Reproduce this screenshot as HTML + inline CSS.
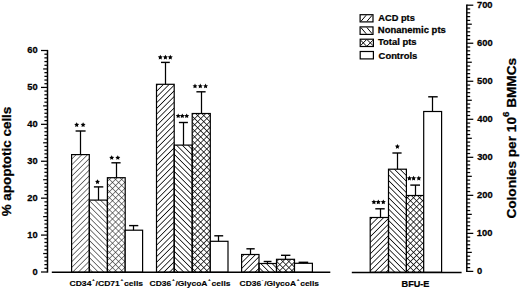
<!DOCTYPE html>
<html><head><meta charset="utf-8"><style>
html,body{margin:0;padding:0;background:#fff;width:520px;height:289px;overflow:hidden}
svg{display:block}
text{font-family:"Liberation Sans",sans-serif;font-weight:bold;fill:#000;stroke:#000;stroke-width:0.25px}
.xl{font-size:7.9px;stroke-width:0.12px}
.ti{font-size:12.3px}
.ti2{font-size:12.7px}
</style></head><body>
<svg width="520" height="289" viewBox="0 0 520 289">
<defs>
<pattern id="h1" patternUnits="userSpaceOnUse" width="4.03" height="4.03" patternTransform="rotate(-45)">
<line x1="0" y1="2.015" x2="4.03" y2="2.015" stroke="#000" stroke-width="0.75"/></pattern>
<pattern id="h2" patternUnits="userSpaceOnUse" width="4.03" height="4.03" patternTransform="rotate(45)">
<line x1="0" y1="2.015" x2="4.03" y2="2.015" stroke="#000" stroke-width="0.75"/></pattern>
<pattern id="h3" patternUnits="userSpaceOnUse" width="4.3" height="4.3" patternTransform="rotate(45)">
<line x1="0" y1="2.15" x2="4.3" y2="2.15" stroke="#000" stroke-width="0.72"/>
<line x1="2.15" y1="0" x2="2.15" y2="4.3" stroke="#000" stroke-width="0.72"/></pattern>
<pattern id="h1a" patternUnits="userSpaceOnUse" width="4.03" height="4.03" patternTransform="rotate(-45)">
<line x1="0" y1="2.015" x2="4.03" y2="2.015" stroke="#222" stroke-width="0.6"/></pattern>
<pattern id="h2a" patternUnits="userSpaceOnUse" width="4.03" height="4.03" patternTransform="rotate(45)">
<line x1="0" y1="2.015" x2="4.03" y2="2.015" stroke="#222" stroke-width="0.6"/></pattern>
<pattern id="h3a" patternUnits="userSpaceOnUse" width="4.3" height="4.3" patternTransform="rotate(45)">
<line x1="0" y1="2.15" x2="4.3" y2="2.15" stroke="#222" stroke-width="0.55"/>
<line x1="2.15" y1="0" x2="2.15" y2="4.3" stroke="#222" stroke-width="0.55"/></pattern>
</defs>
<rect width="520" height="289" fill="#fff"/>
<rect x="71.60" y="154.60" width="17.70" height="117.70" fill="url(#h1a)" stroke="#000" stroke-width="1.2"/><line x1="80.50" y1="154.60" x2="80.50" y2="131.00" stroke="#000" stroke-width="1.25"/><line x1="75.60" y1="131.00" x2="85.60" y2="131.00" stroke="#000" stroke-width="1.4"/><polygon points="76.70,122.30 77.46,123.85 79.17,124.10 77.94,125.30 78.23,127.00 76.70,126.20 75.17,127.00 75.46,125.30 74.23,124.10 75.94,123.85" fill="#000"/><polygon points="83.10,122.30 83.86,123.85 85.57,124.10 84.34,125.30 84.63,127.00 83.10,126.20 81.57,127.00 81.86,125.30 80.63,124.10 82.34,123.85" fill="#000"/><rect x="89.30" y="200.10" width="18.10" height="72.20" fill="url(#h2a)" stroke="#000" stroke-width="1.2"/><line x1="98.50" y1="200.10" x2="98.50" y2="186.90" stroke="#000" stroke-width="1.25"/><line x1="93.90" y1="186.90" x2="103.30" y2="186.90" stroke="#000" stroke-width="1.4"/><polygon points="97.50,179.30 98.26,180.85 99.97,181.10 98.74,182.30 99.03,184.00 97.50,183.20 95.97,184.00 96.26,182.30 95.03,181.10 96.74,180.85" fill="#000"/><rect x="107.40" y="177.70" width="17.80" height="94.60" fill="url(#h3a)" stroke="#000" stroke-width="1.2"/><line x1="116.50" y1="177.70" x2="116.50" y2="162.80" stroke="#000" stroke-width="1.25"/><line x1="111.40" y1="162.80" x2="120.60" y2="162.80" stroke="#000" stroke-width="1.4"/><polygon points="111.70,155.15 112.46,156.70 114.17,156.95 112.94,158.15 113.23,159.85 111.70,159.05 110.17,159.85 110.46,158.15 109.23,156.95 110.94,156.70" fill="#000"/><polygon points="117.80,155.15 118.56,156.70 120.27,156.95 119.04,158.15 119.33,159.85 117.80,159.05 116.27,159.85 116.56,158.15 115.33,156.95 117.04,156.70" fill="#000"/><rect x="125.20" y="230.20" width="17.40" height="42.10" fill="#fff" stroke="#000" stroke-width="1.2"/><line x1="133.50" y1="230.20" x2="133.50" y2="225.60" stroke="#000" stroke-width="1.25"/><line x1="129.10" y1="225.60" x2="138.30" y2="225.60" stroke="#000" stroke-width="1.4"/><rect x="156.50" y="84.30" width="17.70" height="188.00" fill="url(#h1)" stroke="#000" stroke-width="1.2"/><line x1="165.50" y1="84.30" x2="165.50" y2="62.40" stroke="#000" stroke-width="1.25"/><line x1="161.00" y1="62.40" x2="169.80" y2="62.40" stroke="#000" stroke-width="1.4"/><polygon points="160.30,54.80 161.06,56.35 162.77,56.60 161.54,57.80 161.83,59.50 160.30,58.70 158.77,59.50 159.06,57.80 157.83,56.60 159.54,56.35" fill="#000"/><polygon points="165.40,54.80 166.16,56.35 167.87,56.60 166.64,57.80 166.93,59.50 165.40,58.70 163.87,59.50 164.16,57.80 162.93,56.60 164.64,56.35" fill="#000"/><polygon points="170.30,54.80 171.06,56.35 172.77,56.60 171.54,57.80 171.83,59.50 170.30,58.70 168.77,59.50 169.06,57.80 167.83,56.60 169.54,56.35" fill="#000"/><rect x="174.20" y="145.10" width="18.00" height="127.20" fill="url(#h2)" stroke="#000" stroke-width="1.2"/><line x1="183.50" y1="145.10" x2="183.50" y2="122.50" stroke="#000" stroke-width="1.25"/><line x1="178.90" y1="122.50" x2="187.90" y2="122.50" stroke="#000" stroke-width="1.4"/><polygon points="178.20,113.40 178.96,114.95 180.67,115.20 179.44,116.40 179.73,118.10 178.20,117.30 176.67,118.10 176.96,116.40 175.73,115.20 177.44,114.95" fill="#000"/><polygon points="182.30,113.40 183.06,114.95 184.77,115.20 183.54,116.40 183.83,118.10 182.30,117.30 180.77,118.10 181.06,116.40 179.83,115.20 181.54,114.95" fill="#000"/><polygon points="186.70,113.40 187.46,114.95 189.17,115.20 187.94,116.40 188.23,118.10 186.70,117.30 185.17,118.10 185.46,116.40 184.23,115.20 185.94,114.95" fill="#000"/><rect x="192.20" y="113.50" width="18.10" height="158.80" fill="url(#h3)" stroke="#000" stroke-width="1.2"/><line x1="201.50" y1="113.50" x2="201.50" y2="91.80" stroke="#000" stroke-width="1.25"/><line x1="196.40" y1="91.80" x2="205.60" y2="91.80" stroke="#000" stroke-width="1.4"/><polygon points="195.00,83.60 195.76,85.15 197.47,85.40 196.24,86.60 196.53,88.30 195.00,87.50 193.47,88.30 193.76,86.60 192.53,85.40 194.24,85.15" fill="#000"/><polygon points="200.30,83.60 201.06,85.15 202.77,85.40 201.54,86.60 201.83,88.30 200.30,87.50 198.77,88.30 199.06,86.60 197.83,85.40 199.54,85.15" fill="#000"/><polygon points="205.60,83.60 206.36,85.15 208.07,85.40 206.84,86.60 207.13,88.30 205.60,87.50 204.07,88.30 204.36,86.60 203.13,85.40 204.84,85.15" fill="#000"/><rect x="210.30" y="241.30" width="17.70" height="31.00" fill="#fff" stroke="#000" stroke-width="1.2"/><line x1="218.50" y1="241.30" x2="218.50" y2="235.80" stroke="#000" stroke-width="1.25"/><line x1="214.30" y1="235.80" x2="223.20" y2="235.80" stroke="#000" stroke-width="1.4"/><rect x="241.60" y="254.50" width="17.40" height="17.80" fill="url(#h1)" stroke="#000" stroke-width="1.2"/><line x1="250.50" y1="254.50" x2="250.50" y2="248.80" stroke="#000" stroke-width="1.25"/><line x1="246.40" y1="248.80" x2="254.70" y2="248.80" stroke="#000" stroke-width="1.4"/><rect x="259.00" y="263.50" width="17.50" height="8.80" fill="url(#h2)" stroke="#000" stroke-width="1.2"/><line x1="267.50" y1="263.50" x2="267.50" y2="261.50" stroke="#000" stroke-width="1.25"/><line x1="263.70" y1="261.50" x2="271.50" y2="261.50" stroke="#000" stroke-width="1.4"/><rect x="276.50" y="259.30" width="18.00" height="13.00" fill="url(#h3)" stroke="#000" stroke-width="1.2"/><line x1="285.50" y1="259.30" x2="285.50" y2="255.30" stroke="#000" stroke-width="1.25"/><line x1="281.00" y1="255.30" x2="290.40" y2="255.30" stroke="#000" stroke-width="1.4"/><rect x="294.50" y="263.30" width="17.90" height="9.00" fill="#fff" stroke="#000" stroke-width="1.2"/><line x1="303.50" y1="263.30" x2="303.50" y2="262.30" stroke="#000" stroke-width="1.25"/><line x1="298.60" y1="262.30" x2="308.20" y2="262.30" stroke="#000" stroke-width="1.4"/><rect x="370.20" y="217.50" width="18.30" height="54.80" fill="url(#h1)" stroke="#000" stroke-width="1.2"/><line x1="380.50" y1="217.50" x2="380.50" y2="208.80" stroke="#000" stroke-width="1.25"/><line x1="375.30" y1="208.80" x2="384.70" y2="208.80" stroke="#000" stroke-width="1.4"/><polygon points="373.90,199.50 374.66,201.05 376.37,201.30 375.14,202.50 375.43,204.20 373.90,203.40 372.37,204.20 372.66,202.50 371.43,201.30 373.14,201.05" fill="#000"/><polygon points="378.30,199.50 379.06,201.05 380.77,201.30 379.54,202.50 379.83,204.20 378.30,203.40 376.77,204.20 377.06,202.50 375.83,201.30 377.54,201.05" fill="#000"/><polygon points="383.30,199.50 384.06,201.05 385.77,201.30 384.54,202.50 384.83,204.20 383.30,203.40 381.77,204.20 382.06,202.50 380.83,201.30 382.54,201.05" fill="#000"/><rect x="388.50" y="169.20" width="17.90" height="103.10" fill="url(#h2)" stroke="#000" stroke-width="1.2"/><line x1="397.50" y1="169.20" x2="397.50" y2="153.00" stroke="#000" stroke-width="1.25"/><line x1="392.40" y1="153.00" x2="401.60" y2="153.00" stroke="#000" stroke-width="1.4"/><polygon points="397.40,144.00 398.16,145.55 399.87,145.80 398.64,147.00 398.93,148.70 397.40,147.90 395.87,148.70 396.16,147.00 394.93,145.80 396.64,145.55" fill="#000"/><rect x="406.40" y="195.50" width="17.30" height="76.80" fill="url(#h3)" stroke="#000" stroke-width="1.2"/><line x1="415.50" y1="195.50" x2="415.50" y2="185.10" stroke="#000" stroke-width="1.25"/><line x1="410.30" y1="185.10" x2="420.00" y2="185.10" stroke="#000" stroke-width="1.4"/><polygon points="409.40,175.80 410.16,177.35 411.87,177.60 410.64,178.80 410.93,180.50 409.40,179.70 407.87,180.50 408.16,178.80 406.93,177.60 408.64,177.35" fill="#000"/><polygon points="413.60,175.80 414.36,177.35 416.07,177.60 414.84,178.80 415.13,180.50 413.60,179.70 412.07,180.50 412.36,178.80 411.13,177.60 412.84,177.35" fill="#000"/><polygon points="418.80,175.80 419.56,177.35 421.27,177.60 420.04,178.80 420.33,180.50 418.80,179.70 417.27,180.50 417.56,178.80 416.33,177.60 418.04,177.35" fill="#000"/><rect x="423.70" y="111.50" width="17.90" height="160.80" fill="#fff" stroke="#000" stroke-width="1.2"/><line x1="432.50" y1="111.50" x2="432.50" y2="96.80" stroke="#000" stroke-width="1.25"/><line x1="428.20" y1="96.80" x2="437.70" y2="96.80" stroke="#000" stroke-width="1.4"/>
<line x1="47.5" y1="49.90" x2="47.5" y2="272.60" stroke="#000" stroke-width="1.5"/><line x1="41.00" y1="272.00" x2="47.5" y2="272.00" stroke="#000" stroke-width="1.25"/><text transform="translate(32.50,274.60) scale(1.0600,1)" style="font-size:8.8px" >0</text><line x1="44.40" y1="268.31" x2="47.5" y2="268.31" stroke="#000" stroke-width="1.25"/><line x1="44.40" y1="264.62" x2="47.5" y2="264.62" stroke="#000" stroke-width="1.25"/><line x1="44.40" y1="260.93" x2="47.5" y2="260.93" stroke="#000" stroke-width="1.25"/><line x1="44.40" y1="257.23" x2="47.5" y2="257.23" stroke="#000" stroke-width="1.25"/><line x1="43.20" y1="253.54" x2="47.5" y2="253.54" stroke="#000" stroke-width="1.25"/><line x1="44.40" y1="249.85" x2="47.5" y2="249.85" stroke="#000" stroke-width="1.25"/><line x1="44.40" y1="246.16" x2="47.5" y2="246.16" stroke="#000" stroke-width="1.25"/><line x1="44.40" y1="242.47" x2="47.5" y2="242.47" stroke="#000" stroke-width="1.25"/><line x1="44.40" y1="238.78" x2="47.5" y2="238.78" stroke="#000" stroke-width="1.25"/><line x1="41.00" y1="235.08" x2="47.5" y2="235.08" stroke="#000" stroke-width="1.25"/><text transform="translate(27.32,237.68) scale(1.0600,1)" style="font-size:8.8px" >10</text><line x1="44.40" y1="231.39" x2="47.5" y2="231.39" stroke="#000" stroke-width="1.25"/><line x1="44.40" y1="227.70" x2="47.5" y2="227.70" stroke="#000" stroke-width="1.25"/><line x1="44.40" y1="224.01" x2="47.5" y2="224.01" stroke="#000" stroke-width="1.25"/><line x1="44.40" y1="220.32" x2="47.5" y2="220.32" stroke="#000" stroke-width="1.25"/><line x1="43.20" y1="216.62" x2="47.5" y2="216.62" stroke="#000" stroke-width="1.25"/><line x1="44.40" y1="212.93" x2="47.5" y2="212.93" stroke="#000" stroke-width="1.25"/><line x1="44.40" y1="209.24" x2="47.5" y2="209.24" stroke="#000" stroke-width="1.25"/><line x1="44.40" y1="205.55" x2="47.5" y2="205.55" stroke="#000" stroke-width="1.25"/><line x1="44.40" y1="201.86" x2="47.5" y2="201.86" stroke="#000" stroke-width="1.25"/><line x1="41.00" y1="198.17" x2="47.5" y2="198.17" stroke="#000" stroke-width="1.25"/><text transform="translate(27.32,200.77) scale(1.0600,1)" style="font-size:8.8px" >20</text><line x1="44.40" y1="194.47" x2="47.5" y2="194.47" stroke="#000" stroke-width="1.25"/><line x1="44.40" y1="190.78" x2="47.5" y2="190.78" stroke="#000" stroke-width="1.25"/><line x1="44.40" y1="187.09" x2="47.5" y2="187.09" stroke="#000" stroke-width="1.25"/><line x1="44.40" y1="183.40" x2="47.5" y2="183.40" stroke="#000" stroke-width="1.25"/><line x1="43.20" y1="179.71" x2="47.5" y2="179.71" stroke="#000" stroke-width="1.25"/><line x1="44.40" y1="176.02" x2="47.5" y2="176.02" stroke="#000" stroke-width="1.25"/><line x1="44.40" y1="172.32" x2="47.5" y2="172.32" stroke="#000" stroke-width="1.25"/><line x1="44.40" y1="168.63" x2="47.5" y2="168.63" stroke="#000" stroke-width="1.25"/><line x1="44.40" y1="164.94" x2="47.5" y2="164.94" stroke="#000" stroke-width="1.25"/><line x1="41.00" y1="161.25" x2="47.5" y2="161.25" stroke="#000" stroke-width="1.25"/><text transform="translate(27.32,163.85) scale(1.0600,1)" style="font-size:8.8px" >30</text><line x1="44.40" y1="157.56" x2="47.5" y2="157.56" stroke="#000" stroke-width="1.25"/><line x1="44.40" y1="153.87" x2="47.5" y2="153.87" stroke="#000" stroke-width="1.25"/><line x1="44.40" y1="150.18" x2="47.5" y2="150.18" stroke="#000" stroke-width="1.25"/><line x1="44.40" y1="146.48" x2="47.5" y2="146.48" stroke="#000" stroke-width="1.25"/><line x1="43.20" y1="142.79" x2="47.5" y2="142.79" stroke="#000" stroke-width="1.25"/><line x1="44.40" y1="139.10" x2="47.5" y2="139.10" stroke="#000" stroke-width="1.25"/><line x1="44.40" y1="135.41" x2="47.5" y2="135.41" stroke="#000" stroke-width="1.25"/><line x1="44.40" y1="131.72" x2="47.5" y2="131.72" stroke="#000" stroke-width="1.25"/><line x1="44.40" y1="128.03" x2="47.5" y2="128.03" stroke="#000" stroke-width="1.25"/><line x1="41.00" y1="124.33" x2="47.5" y2="124.33" stroke="#000" stroke-width="1.25"/><text transform="translate(27.32,126.93) scale(1.0600,1)" style="font-size:8.8px" >40</text><line x1="44.40" y1="120.64" x2="47.5" y2="120.64" stroke="#000" stroke-width="1.25"/><line x1="44.40" y1="116.95" x2="47.5" y2="116.95" stroke="#000" stroke-width="1.25"/><line x1="44.40" y1="113.26" x2="47.5" y2="113.26" stroke="#000" stroke-width="1.25"/><line x1="44.40" y1="109.57" x2="47.5" y2="109.57" stroke="#000" stroke-width="1.25"/><line x1="43.20" y1="105.88" x2="47.5" y2="105.88" stroke="#000" stroke-width="1.25"/><line x1="44.40" y1="102.18" x2="47.5" y2="102.18" stroke="#000" stroke-width="1.25"/><line x1="44.40" y1="98.49" x2="47.5" y2="98.49" stroke="#000" stroke-width="1.25"/><line x1="44.40" y1="94.80" x2="47.5" y2="94.80" stroke="#000" stroke-width="1.25"/><line x1="44.40" y1="91.11" x2="47.5" y2="91.11" stroke="#000" stroke-width="1.25"/><line x1="41.00" y1="87.42" x2="47.5" y2="87.42" stroke="#000" stroke-width="1.25"/><text transform="translate(27.32,90.02) scale(1.0600,1)" style="font-size:8.8px" >50</text><line x1="44.40" y1="83.72" x2="47.5" y2="83.72" stroke="#000" stroke-width="1.25"/><line x1="44.40" y1="80.03" x2="47.5" y2="80.03" stroke="#000" stroke-width="1.25"/><line x1="44.40" y1="76.34" x2="47.5" y2="76.34" stroke="#000" stroke-width="1.25"/><line x1="44.40" y1="72.65" x2="47.5" y2="72.65" stroke="#000" stroke-width="1.25"/><line x1="43.20" y1="68.96" x2="47.5" y2="68.96" stroke="#000" stroke-width="1.25"/><line x1="44.40" y1="65.27" x2="47.5" y2="65.27" stroke="#000" stroke-width="1.25"/><line x1="44.40" y1="61.57" x2="47.5" y2="61.57" stroke="#000" stroke-width="1.25"/><line x1="44.40" y1="57.88" x2="47.5" y2="57.88" stroke="#000" stroke-width="1.25"/><line x1="44.40" y1="54.19" x2="47.5" y2="54.19" stroke="#000" stroke-width="1.25"/><line x1="41.00" y1="50.50" x2="47.5" y2="50.50" stroke="#000" stroke-width="1.25"/><text transform="translate(27.32,53.10) scale(1.0600,1)" style="font-size:8.8px" >60</text><line x1="466.8" y1="4.60" x2="466.8" y2="272.00" stroke="#000" stroke-width="1.5"/><line x1="466.8" y1="271.40" x2="473.30" y2="271.40" stroke="#000" stroke-width="1.25"/><text transform="translate(477.03,274.00) scale(1.0600,1)" style="font-size:8.8px" >0</text><line x1="466.8" y1="267.60" x2="470.20" y2="267.60" stroke="#000" stroke-width="1.25"/><line x1="466.8" y1="263.79" x2="470.20" y2="263.79" stroke="#000" stroke-width="1.25"/><line x1="466.8" y1="259.99" x2="470.20" y2="259.99" stroke="#000" stroke-width="1.25"/><line x1="466.8" y1="256.19" x2="470.20" y2="256.19" stroke="#000" stroke-width="1.25"/><line x1="466.8" y1="252.39" x2="471.80" y2="252.39" stroke="#000" stroke-width="1.25"/><line x1="466.8" y1="248.58" x2="470.20" y2="248.58" stroke="#000" stroke-width="1.25"/><line x1="466.8" y1="244.78" x2="470.20" y2="244.78" stroke="#000" stroke-width="1.25"/><line x1="466.8" y1="240.98" x2="470.20" y2="240.98" stroke="#000" stroke-width="1.25"/><line x1="466.8" y1="237.17" x2="470.20" y2="237.17" stroke="#000" stroke-width="1.25"/><line x1="466.8" y1="233.37" x2="473.30" y2="233.37" stroke="#000" stroke-width="1.25"/><text transform="translate(476.82,235.97) scale(1.0600,1)" style="font-size:8.8px" >100</text><line x1="466.8" y1="229.57" x2="470.20" y2="229.57" stroke="#000" stroke-width="1.25"/><line x1="466.8" y1="225.77" x2="470.20" y2="225.77" stroke="#000" stroke-width="1.25"/><line x1="466.8" y1="221.96" x2="470.20" y2="221.96" stroke="#000" stroke-width="1.25"/><line x1="466.8" y1="218.16" x2="470.20" y2="218.16" stroke="#000" stroke-width="1.25"/><line x1="466.8" y1="214.36" x2="471.80" y2="214.36" stroke="#000" stroke-width="1.25"/><line x1="466.8" y1="210.55" x2="470.20" y2="210.55" stroke="#000" stroke-width="1.25"/><line x1="466.8" y1="206.75" x2="470.20" y2="206.75" stroke="#000" stroke-width="1.25"/><line x1="466.8" y1="202.95" x2="470.20" y2="202.95" stroke="#000" stroke-width="1.25"/><line x1="466.8" y1="199.15" x2="470.20" y2="199.15" stroke="#000" stroke-width="1.25"/><line x1="466.8" y1="195.34" x2="473.30" y2="195.34" stroke="#000" stroke-width="1.25"/><text transform="translate(477.07,197.94) scale(1.0600,1)" style="font-size:8.8px" >200</text><line x1="466.8" y1="191.54" x2="470.20" y2="191.54" stroke="#000" stroke-width="1.25"/><line x1="466.8" y1="187.74" x2="470.20" y2="187.74" stroke="#000" stroke-width="1.25"/><line x1="466.8" y1="183.93" x2="470.20" y2="183.93" stroke="#000" stroke-width="1.25"/><line x1="466.8" y1="180.13" x2="470.20" y2="180.13" stroke="#000" stroke-width="1.25"/><line x1="466.8" y1="176.33" x2="471.80" y2="176.33" stroke="#000" stroke-width="1.25"/><line x1="466.8" y1="172.53" x2="470.20" y2="172.53" stroke="#000" stroke-width="1.25"/><line x1="466.8" y1="168.72" x2="470.20" y2="168.72" stroke="#000" stroke-width="1.25"/><line x1="466.8" y1="164.92" x2="470.20" y2="164.92" stroke="#000" stroke-width="1.25"/><line x1="466.8" y1="161.12" x2="470.20" y2="161.12" stroke="#000" stroke-width="1.25"/><line x1="466.8" y1="157.31" x2="473.30" y2="157.31" stroke="#000" stroke-width="1.25"/><text transform="translate(477.19,159.91) scale(1.0600,1)" style="font-size:8.8px" >300</text><line x1="466.8" y1="153.51" x2="470.20" y2="153.51" stroke="#000" stroke-width="1.25"/><line x1="466.8" y1="149.71" x2="470.20" y2="149.71" stroke="#000" stroke-width="1.25"/><line x1="466.8" y1="145.91" x2="470.20" y2="145.91" stroke="#000" stroke-width="1.25"/><line x1="466.8" y1="142.10" x2="470.20" y2="142.10" stroke="#000" stroke-width="1.25"/><line x1="466.8" y1="138.30" x2="471.80" y2="138.30" stroke="#000" stroke-width="1.25"/><line x1="466.8" y1="134.50" x2="470.20" y2="134.50" stroke="#000" stroke-width="1.25"/><line x1="466.8" y1="130.69" x2="470.20" y2="130.69" stroke="#000" stroke-width="1.25"/><line x1="466.8" y1="126.89" x2="470.20" y2="126.89" stroke="#000" stroke-width="1.25"/><line x1="466.8" y1="123.09" x2="470.20" y2="123.09" stroke="#000" stroke-width="1.25"/><line x1="466.8" y1="119.29" x2="473.30" y2="119.29" stroke="#000" stroke-width="1.25"/><text transform="translate(477.26,121.89) scale(1.0600,1)" style="font-size:8.8px" >400</text><line x1="466.8" y1="115.48" x2="470.20" y2="115.48" stroke="#000" stroke-width="1.25"/><line x1="466.8" y1="111.68" x2="470.20" y2="111.68" stroke="#000" stroke-width="1.25"/><line x1="466.8" y1="107.88" x2="470.20" y2="107.88" stroke="#000" stroke-width="1.25"/><line x1="466.8" y1="104.07" x2="470.20" y2="104.07" stroke="#000" stroke-width="1.25"/><line x1="466.8" y1="100.27" x2="471.80" y2="100.27" stroke="#000" stroke-width="1.25"/><line x1="466.8" y1="96.47" x2="470.20" y2="96.47" stroke="#000" stroke-width="1.25"/><line x1="466.8" y1="92.67" x2="470.20" y2="92.67" stroke="#000" stroke-width="1.25"/><line x1="466.8" y1="88.86" x2="470.20" y2="88.86" stroke="#000" stroke-width="1.25"/><line x1="466.8" y1="85.06" x2="470.20" y2="85.06" stroke="#000" stroke-width="1.25"/><line x1="466.8" y1="81.26" x2="473.30" y2="81.26" stroke="#000" stroke-width="1.25"/><text transform="translate(477.12,83.86) scale(1.0600,1)" style="font-size:8.8px" >500</text><line x1="466.8" y1="77.45" x2="470.20" y2="77.45" stroke="#000" stroke-width="1.25"/><line x1="466.8" y1="73.65" x2="470.20" y2="73.65" stroke="#000" stroke-width="1.25"/><line x1="466.8" y1="69.85" x2="470.20" y2="69.85" stroke="#000" stroke-width="1.25"/><line x1="466.8" y1="66.05" x2="470.20" y2="66.05" stroke="#000" stroke-width="1.25"/><line x1="466.8" y1="62.24" x2="471.80" y2="62.24" stroke="#000" stroke-width="1.25"/><line x1="466.8" y1="58.44" x2="470.20" y2="58.44" stroke="#000" stroke-width="1.25"/><line x1="466.8" y1="54.64" x2="470.20" y2="54.64" stroke="#000" stroke-width="1.25"/><line x1="466.8" y1="50.83" x2="470.20" y2="50.83" stroke="#000" stroke-width="1.25"/><line x1="466.8" y1="47.03" x2="470.20" y2="47.03" stroke="#000" stroke-width="1.25"/><line x1="466.8" y1="43.23" x2="473.30" y2="43.23" stroke="#000" stroke-width="1.25"/><text transform="translate(477.05,45.83) scale(1.0600,1)" style="font-size:8.8px" >600</text><line x1="466.8" y1="39.43" x2="470.20" y2="39.43" stroke="#000" stroke-width="1.25"/><line x1="466.8" y1="35.62" x2="470.20" y2="35.62" stroke="#000" stroke-width="1.25"/><line x1="466.8" y1="31.82" x2="470.20" y2="31.82" stroke="#000" stroke-width="1.25"/><line x1="466.8" y1="28.02" x2="470.20" y2="28.02" stroke="#000" stroke-width="1.25"/><line x1="466.8" y1="24.21" x2="471.80" y2="24.21" stroke="#000" stroke-width="1.25"/><line x1="466.8" y1="20.41" x2="470.20" y2="20.41" stroke="#000" stroke-width="1.25"/><line x1="466.8" y1="16.61" x2="470.20" y2="16.61" stroke="#000" stroke-width="1.25"/><line x1="466.8" y1="12.81" x2="470.20" y2="12.81" stroke="#000" stroke-width="1.25"/><line x1="466.8" y1="9.00" x2="470.20" y2="9.00" stroke="#000" stroke-width="1.25"/><line x1="466.8" y1="5.20" x2="473.30" y2="5.20" stroke="#000" stroke-width="1.25"/><text transform="translate(477.00,7.80) scale(1.0600,1)" style="font-size:8.8px" >700</text><line x1="51.8" y1="272.35" x2="330.3" y2="272.35" stroke="#000" stroke-width="1.5"/><line x1="351.8" y1="272.5" x2="461.6" y2="272.5" stroke="#000" stroke-width="1.5"/>
<text transform="translate(69.5,286.0) scale(1.085,1)" class="xl"><tspan>CD34</tspan><tspan dx="0.6" dy="-4.6" font-size="4.4">+</tspan><tspan dx="0.7" dy="4.6">/CD71</tspan><tspan dx="0.6" dy="-4.6" font-size="4.4">+</tspan><tspan dx="0.7" dy="4.6">cells</tspan></text><text transform="translate(149.6,286.0) scale(1.075,1)" class="xl"><tspan>CD36</tspan><tspan dx="0.6" dy="-4.6" font-size="4.4">+</tspan><tspan dx="0.7" dy="4.6">/GlycoA</tspan><tspan dx="0.6" dy="-4.6" font-size="4.4">+</tspan><tspan dx="0.7" dy="4.6">cells</tspan></text><text transform="translate(239.6,286.0) scale(1.07,1)" class="xl"><tspan>CD36</tspan><tspan dx="0.6" dy="-4.6" font-size="4.4">-</tspan><tspan dx="0.7" dy="4.6">/GlycoA</tspan><tspan dx="0.6" dy="-4.6" font-size="4.4">+</tspan><tspan dx="0.7" dy="4.6">cells</tspan></text><text transform="translate(401.58,286.80) scale(1.0612,1)" style="font-size:8.6px" >BFU-E</text><text transform="translate(11.2,216.3) rotate(-90)" class="ti" textLength="109.6" lengthAdjust="spacingAndGlyphs">% apoptotic cells</text><text transform="translate(515.8,218.6) rotate(-90) scale(1.075,1)" class="ti2">Colonies per 10<tspan dy="-6.5" font-size="9">6</tspan><tspan dy="6.5"> BMMCs</tspan></text>
<clipPath id="lc0"><rect x="360.70" y="15.30" width="11.70" height="6.00"/></clipPath><g clip-path="url(#lc0)"><line x1="358.35" y1="24.40" x2="368.75" y2="12.20" stroke="#000" stroke-width="1.0"/><line x1="364.35" y1="24.40" x2="374.75" y2="12.20" stroke="#000" stroke-width="1.0"/></g><rect x="360.10" y="14.70" width="12.90" height="7.20" fill="none" stroke="#000" stroke-width="1.2"/><text transform="translate(378.37,21.20) scale(0.9719,1)" style="font-size:9.5px" >ACD pts</text><clipPath id="lc1"><rect x="360.70" y="27.50" width="11.70" height="6.30"/></clipPath><g clip-path="url(#lc1)"><line x1="358.35" y1="24.55" x2="368.75" y2="36.75" stroke="#000" stroke-width="1.0"/><line x1="364.35" y1="24.55" x2="374.75" y2="36.75" stroke="#000" stroke-width="1.0"/></g><rect x="360.10" y="26.90" width="12.90" height="7.50" fill="none" stroke="#000" stroke-width="1.2"/><text transform="translate(377.86,33.30) scale(0.9990,1)" style="font-size:9.5px" >Nonanemic pts</text><clipPath id="lc2"><rect x="360.80" y="39.80" width="12.00" height="6.10"/></clipPath><g clip-path="url(#lc2)"><line x1="357.30" y1="48.85" x2="369.30" y2="36.85" stroke="#000" stroke-width="1.0"/><line x1="357.30" y1="36.85" x2="369.30" y2="48.85" stroke="#000" stroke-width="1.0"/><line x1="364.30" y1="48.85" x2="376.30" y2="36.85" stroke="#000" stroke-width="1.0"/><line x1="364.30" y1="36.85" x2="376.30" y2="48.85" stroke="#000" stroke-width="1.0"/></g><rect x="360.20" y="39.20" width="13.20" height="7.30" fill="none" stroke="#000" stroke-width="1.2"/><text transform="translate(378.01,45.25) scale(0.9921,1)" style="font-size:9.5px" >Total pts</text><clipPath id="lc3"><rect x="360.80" y="52.10" width="12.00" height="6.20"/></clipPath><rect x="360.20" y="51.50" width="13.20" height="7.40" fill="none" stroke="#000" stroke-width="1.2"/><text transform="translate(378.62,58.75) scale(0.9899,1)" style="font-size:9.5px" >Controls</text>
</svg>
</body></html>
